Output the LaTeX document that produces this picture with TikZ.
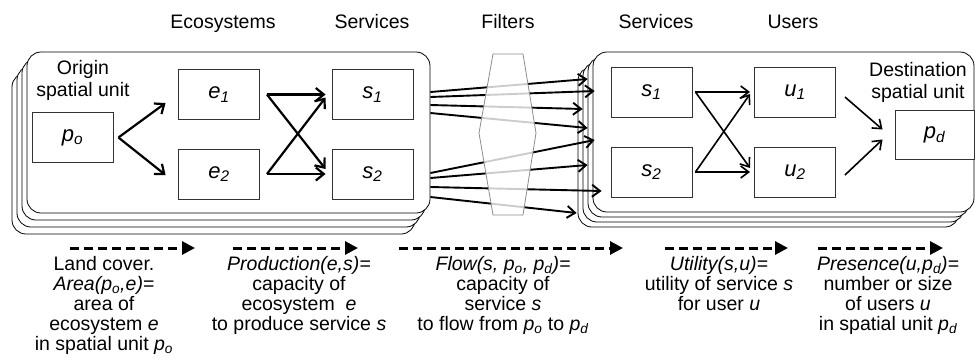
\documentclass[tikz,border=0pt]{standalone}
\usepackage{fontspec}
\setmainfont{Liberation Sans}
\usetikzlibrary{arrows.meta}
\tikzset{
  card/.style={rectangle, draw=black, line width=0.8pt, fill=white, rounded corners=14pt, inner sep=0pt},
  lcard/.style={card, minimum width=403pt, minimum height=161pt},
  rcard/.style={card, minimum width=381pt, minimum height=160pt},
  vbox/.style={rectangle, draw=black!80, line width=0.9pt, fill=white, minimum width=81pt, minimum height=50pt, inner sep=0pt, font=\fontsize{22}{24}\selectfont\itshape},
  arr/.style={line width=2.2pt, -{Straight Barb[length=8pt,width=13pt]}},
  thinarr/.style={line width=1.6pt, -{Straight Barb[length=8pt,width=12pt]}},
  flowarr/.style={line width=1.9pt, -{Straight Barb[length=8pt,width=12pt]}},
  dasharr/.style={line width=3pt, dash pattern=on 9pt off 5pt, -{Triangle[length=13pt,width=13pt]}},
  lbl/.style={font=\fontsize{19.5}{20}\selectfont, align=center, inner sep=0pt},
  head/.style={font=\fontsize{19.5}{22}\selectfont, inner sep=0pt, anchor=base},
  filterstyle/.style={draw=black!45, line width=0.8pt, fill=white, fill opacity=0.8}
}
\begin{document}
\begin{tikzpicture}[x=1pt,y=-1pt]
\useasboundingbox (0,0) rectangle (976,362);
% column headings
\node[head] (hEco) at (223,28) {Ecosystems};
\node[head] (hSer1) at (372,28) {Services};
\node[head] (hFil) at (508,28) {Filters};
\node[head] (hSer2) at (656,28) {Services};
\node[head] (hUse) at (793,28) {Users};
% left stack of cards
\node[lcard] (L3) at (213.5,153.5) {};
\node[lcard] (L2) at (218.5,146.5) {};
\node[lcard] (L1) at (223.5,139.5) {};
\node[lcard] (L0) at (228.5,132.5) {};
% right stack of cards
\node[rcard] (R3) at (768.5,147) {};
\node[rcard] (R2) at (773.5,142) {};
\node[rcard] (R1) at (778.5,137) {};
\node[rcard] (R0) at (783.5,132) {};
% origin unit
\node[lbl, font=\fontsize{19.5}{22}\selectfont] (orig) at (83,80) {Origin\\spatial unit};
\node[vbox] (po) at (72.5,137.5) {p\textsubscript{o}};
\node[vbox] (e1) at (219,94.5) {e\textsubscript{1}};
\node[vbox] (e2) at (219,174) {e\textsubscript{2}};
\node[vbox] (s1) at (372.5,94.5) {s\textsubscript{1}};
\node[vbox] (s2) at (372.5,174) {s\textsubscript{2}};
% destination unit
\node[lbl, font=\fontsize{19.5}{22}\selectfont] (dest) at (918,82) {Destination\\spatial unit};
\node[vbox] (rs1) at (651.5,92) {s\textsubscript{1}};
\node[vbox] (rs2) at (651.5,172) {s\textsubscript{2}};
\node[vbox] (u1) at (795,92) {u\textsubscript{1}};
\node[vbox] (u2) at (795,172) {u\textsubscript{2}};
\node[vbox, minimum width=79pt, minimum height=49pt] (pd) at (934.5,134.5) {p\textsubscript{d}};
% arrows left
\draw[arr] ([shift={(5,0)}]po.east) -- ([shift={(-12.5,8.5)}]e1.west);
\draw[arr] ([shift={(5,0)}]po.east) -- ([shift={(-12.5,1)}]e2.west);
\draw[arr] ([shift={(7,0)}]e1.east) -- ([shift={(-6,0)}]s1.west);
\draw[arr] ([shift={(7,0)}]e1.east) -- ([shift={(-6,-5)}]s2.west);
\draw[arr] ([shift={(7,0)}]e2.east) -- ([shift={(-6,3)}]s1.west);
\draw[arr] ([shift={(7,0)}]e2.east) -- ([shift={(-6,0)}]s2.west);
% arrows right
\draw[thinarr] ([shift={(3,0)}]rs1.east) -- ([shift={(-4,0)}]u1.west);
\draw[thinarr] ([shift={(3,0)}]rs1.east) -- ([shift={(-4,-4)}]u2.west);
\draw[thinarr] ([shift={(3,0)}]rs2.east) -- ([shift={(-4,2)}]u1.west);
\draw[thinarr] ([shift={(3,0)}]rs2.east) -- ([shift={(-4,0)}]u2.west);
\draw[thinarr] ([shift={(9,5)}]u1.east) -- ([shift={(-12,-5)}]pd.west);
\draw[thinarr] ([shift={(9,3)}]u2.east) -- ([shift={(-12,5)}]pd.west);
% flow arrows
\draw[flowarr] ([shift={(0,-40.5)}]L0.east) -- ([shift={(-5,-53)}]R0.west);
\draw[flowarr] ([shift={(0,-35.5)}]L0.east) -- ([shift={(2,-41)}]R0.west);
\draw[flowarr] ([shift={(0,-27.5)}]L0.east) -- ([shift={(-10,-23)}]R0.west);
\draw[flowarr] ([shift={(0,-19.5)}]L0.east) -- ([shift={(-5,-4)}]R0.west);
\draw[flowarr] ([shift={(0,40.5)}]L0.east) -- ([shift={(2,8)}]R0.west);
\draw[flowarr] ([shift={(0,45.5)}]L0.east) -- ([shift={(-5,33)}]R0.west);
\draw[flowarr] ([shift={(0,54.5)}]L0.east) -- ([shift={(9,59)}]R0.west);
\draw[flowarr] ([shift={(0,64.5)}]L0.east) -- ([shift={(-16,81)}]R0.west);
% filter
\draw[filterstyle] (493,54) -- (523,54) -- (536,133) -- (523,215) -- (493,215) -- (479,133) -- cycle;
% bottom dashed arrows
\coordinate (d1a) at (70,248);  \coordinate (d1b) at (195,248);
\coordinate (d2a) at (233,248); \coordinate (d2b) at (358,248);
\coordinate (d3a) at (399,248); \coordinate (d3b) at (623,248);
\coordinate (d4a) at (665,248); \coordinate (d4b) at (788,248);
\coordinate (d5a) at (818,248); \coordinate (d5b) at (943,248);
\draw[dasharr] (d1a) -- (d1b);
\draw[dasharr] (d2a) -- (d2b);
\draw[dasharr] (d3a) -- (d3b);
\draw[dasharr] (d4a) -- (d4b);
\draw[dasharr] (d5a) -- (d5b);
% bottom texts
\node[lbl, anchor=north] (t1) at (104,256) {Land cover.\\\textit{Area(p\textsubscript{o},e)=}\\area of\\ecosystem \textit{e}\\in spatial unit \textit{p\textsubscript{o}}};
\node[lbl, anchor=north] (t2) at (299,256) {\textit{Production(e,s)=}\\capacity of\\ecosystem \ \textit{e}\\to produce service \textit{s}};
\node[lbl, anchor=north] (t3) at (503,256) {\textit{Flow(s, p\textsubscript{o}, p\textsubscript{d})=}\\capacity of\\service \textit{s}\\to flow from \textit{p\textsubscript{o}} to \textit{p\textsubscript{d}}};
\node[lbl, anchor=north] (t4) at (719,256) {\textit{Utility(s,u)=}\\utility of service \textit{s}\\for user \textit{u}};
\node[lbl, anchor=north] (t5) at (888,256) {\textit{Presence(u,p\textsubscript{d})=}\\number or size\\of users \textit{u}\\in spatial unit \textit{p\textsubscript{d}}};
\end{tikzpicture}
\end{document}
